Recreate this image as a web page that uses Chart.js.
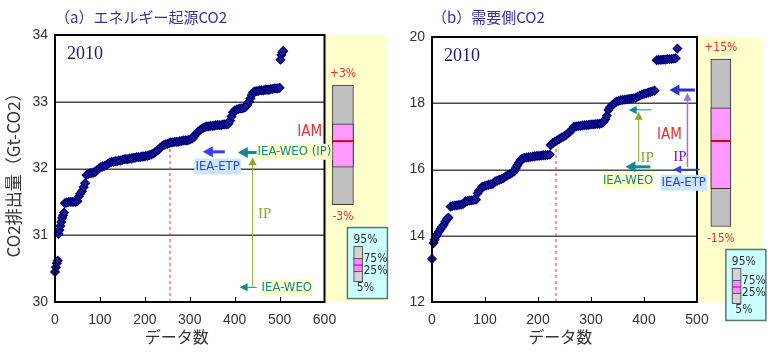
<!DOCTYPE html>
<html>
<head>
<meta charset="utf-8">
<script src="https://cdn.jsdelivr.net/npm/chart.js@4.4.0/dist/chart.umd.min.js"></script>
<style>
  html, body { margin: 0; padding: 0; background: #fff; }
  #wrap { position: relative; width: 768px; height: 354px; overflow: hidden; }
  .pane { position: absolute; top: 0; height: 354px; }
  #paneA { left: 0; width: 392px; }
  #paneB { left: 392px; width: 376px; }
</style>
</head>
<body>
<div id="wrap">
  <div class="pane" id="paneA"><canvas id="chartA"></canvas></div>
  <div class="pane" id="paneB"><canvas id="chartB"></canvas></div>
</div>
<script>
// ══════════════════════════════════════
// CO2 排出量 2010 — データ数ごとの分布
// ══════════════════════════════════════

// ── (a) エネルギー起源CO2 ───────────────
const countA = [0, 2, 4, 6, 8, 10, 12, 14, 16, 18, 20, 22, 26, 30, 34, 38, 42, 46, 50, 53,
  56, 60, 64, 67, 70, 74, 78, 82, 86, 90, 94, 98, 102, 106, 110, 114, 118, 122, 126, 130,
  134, 138, 142, 146, 150, 154, 158, 162, 166, 170, 174, 178, 182, 186, 190, 194, 198, 202, 206, 210,
  214, 218, 222, 226, 230, 234, 238, 242, 246, 250, 254, 258, 262, 266, 270, 274, 278, 282, 286, 290,
  294, 298, 302, 306, 310, 314, 318, 322, 326, 330, 334, 338, 342, 346, 350, 354, 358, 362, 366, 370,
  374, 378, 382, 386, 390, 393, 396, 400, 404, 408, 412, 416, 420, 424, 428, 432, 435, 438, 441, 444,
  448, 452, 456, 460, 464, 468, 472, 476, 480, 484, 488, 492, 496, 500, 502, 504, 506, 508];
const co2A = [30.45, 30.52, 30.58, 30.62, 31.02, 31.08, 31.14, 31.2, 31.26, 31.3, 31.34, 31.48, 31.49, 31.5, 31.5, 31.5, 31.5, 31.5, 31.51, 31.58,
  31.62, 31.66, 31.72, 31.78, 31.9, 31.92, 31.93, 31.93, 31.94, 31.95, 31.98, 32.0, 32.02, 32.03, 32.04, 32.05, 32.07, 32.09, 32.1, 32.1,
  32.11, 32.11, 32.12, 32.12, 32.13, 32.14, 32.14, 32.14, 32.15, 32.15, 32.16, 32.16, 32.17, 32.17, 32.17, 32.18, 32.18, 32.19, 32.19, 32.2,
  32.21, 32.22, 32.24, 32.26, 32.28, 32.31, 32.33, 32.35, 32.36, 32.37, 32.38, 32.39, 32.39, 32.4, 32.4, 32.4, 32.41, 32.41, 32.42, 32.42,
  32.42, 32.43, 32.44, 32.45, 32.48, 32.52, 32.55, 32.57, 32.59, 32.61, 32.62, 32.63, 32.63, 32.64, 32.64, 32.64, 32.65, 32.65, 32.65, 32.65,
  32.66, 32.66, 32.66, 32.67, 32.72, 32.78, 32.84, 32.87, 32.88, 32.89, 32.9, 32.9, 32.91, 32.92, 32.95, 33.0, 33.05, 33.1, 33.14, 33.15,
  33.16, 33.16, 33.17, 33.17, 33.17, 33.18, 33.18, 33.18, 33.19, 33.19, 33.2, 33.2, 33.2, 33.21, 33.63, 33.7, 33.74, 33.76];
const boxRangeA = [31.46, 33.25];   // 5%–95% (±3%)
const boxIqrA   = [32.02, 32.67];   // 25%–75%
const medianA   = { count: 256, value: 32.41, curve: 32.38 };
const pctA      = ['+3%', '-3%'];

// ── (b) 需要側CO2 ───────────────────────
const countB = [0, 3, 5, 7, 10, 13, 16, 19, 22, 25, 28, 31, 35, 39, 43, 47, 51, 55, 59, 63,
  67, 71, 75, 79, 83, 86, 89, 92, 95, 99, 103, 107, 111, 115, 119, 123, 127, 131, 135, 139,
  143, 147, 151, 155, 158, 161, 164, 167, 170, 174, 178, 182, 186, 190, 194, 198, 202, 206, 210, 214,
  218, 222, 224, 228, 232, 236, 240, 244, 248, 252, 256, 260, 264, 268, 272, 276, 280, 284, 288, 292,
  296, 300, 304, 308, 312, 316, 320, 324, 327, 330, 333, 336, 340, 344, 348, 352, 356, 360, 364, 368,
  372, 376, 380, 384, 388, 392, 396, 400, 404, 408, 412, 416, 420, 424, 428, 432, 436, 440, 444, 448,
  452, 456, 460, 463];
const co2B = [13.3, 13.78, 13.88, 13.97, 14.05, 14.12, 14.2, 14.27, 14.33, 14.42, 14.5, 14.55, 14.88, 14.9, 14.91, 14.92, 14.93, 14.94, 14.96, 15.04,
  15.05, 15.06, 15.07, 15.08, 15.09, 15.28, 15.36, 15.42, 15.48, 15.5, 15.52, 15.54, 15.55, 15.57, 15.64, 15.66, 15.69, 15.71, 15.74, 15.79,
  15.83, 15.86, 15.9, 15.94, 16.04, 16.12, 16.2, 16.28, 16.33, 16.35, 16.36, 16.37, 16.38, 16.39, 16.4, 16.41, 16.41, 16.42, 16.43, 16.43,
  16.44, 16.45, 16.74, 16.8, 16.84, 16.88, 16.92, 16.96, 16.99, 17.03, 17.08, 17.14, 17.2, 17.29, 17.3, 17.31, 17.32, 17.33, 17.34, 17.34,
  17.35, 17.36, 17.36, 17.37, 17.38, 17.38, 17.39, 17.44, 17.52, 17.62, 17.8, 17.88, 17.94, 18.0, 18.05, 18.07, 18.09, 18.1, 18.11, 18.12,
  18.13, 18.14, 18.15, 18.16, 18.2, 18.23, 18.26, 18.28, 18.3, 18.32, 18.34, 18.36, 18.38, 19.3, 19.31, 19.31, 19.32, 19.32, 19.33, 19.33,
  19.34, 19.35, 19.36, 19.65];
const boxRangeB = [14.28, 19.33];   // 5%–95% (±15%)
const boxIqrB   = [15.42, 17.86];   // 25%–75%
const medianB   = { count: 234, value: 16.86, curve: 16.8 };
const pctB      = ['+15%', '-15%'];

const keyLabels = ['95%', '75%', '25%', '5%'];

// ── fuentes ──
const SANS   = "'Liberation Sans', Arial, sans-serif";
const NARROW = "'Liberation Sans Narrow', 'DejaVu Sans Condensed', Arial, sans-serif";
const SERIF  = "'Liberation Serif', 'Times New Roman', serif";
const JP     = "'Noto Sans CJK JP', sans-serif";

const TEAL = '#138a8a', OLIVE = '#8aa82a', BLUE = '#3a3af0', PURPLE = '#a070e8';

// 注記 (データ座標): [x1, y1, x2, y2, 色, 太さ]
const panelA = {
  title: '（a）エネルギー起源CO2', yTitle: 'CO2排出量（Gt-CO2）',
  xEnd: 600, xMax: 738, boxAt: 641, boxWidth: 21, xTitleAt: 271,
  range: boxRangeA, iqr: boxIqrA, median: medianA, pct: pctA,
  arrows: [
    [378, 32.25, 329, 32.25, BLUE, 3],
    [451, 32.24, 407, 32.24, TEAL, 3],
    [440, 30.23, 440, 32.17, OLIVE, 1],
    [449, 30.22, 411, 30.22, TEAL, 1]
  ],
  labels: [
    ['IEA-ETP', 362, 32.03, BLUE, '#cce6ff', '13px ' + NARROW],
    ['IEA-WEO (IP)', 533, 32.25, TEAL, '#ffffcc', '13px ' + NARROW],
    ['IP', 467, 31.31, OLIVE, null, '15px ' + SERIF],
    ['IEA-WEO', 516, 30.22, TEAL, '#ffffcc', '13px ' + NARROW],
    ['IAM', 567, 32.55, '#e83030', null, '15px ' + NARROW]
  ]
};
const panelB = {
  title: '（b）需要側CO2', yTitle: null,
  xEnd: 500, xMax: 623.6, boxAt: 545, boxWidth: 20, xTitleAt: 242,
  range: boxRangeB, iqr: boxIqrB, median: medianB, pct: pctB,
  arrows: [
    [414, 17.8, 371, 17.8, TEAL, 1],
    [390, 16.24, 390, 17.74, OLIVE, 1],
    [412, 16.08, 365, 16.08, TEAL, 3],
    [482, 16.07, 482, 18.32, PURPLE, 1.5],
    [505, 16.0, 455, 16.0, BLUE, 1.5],
    [496, 18.4, 448, 18.4, '#3030c8', 3]
  ],
  labels: [
    ['IP', 406, 16.35, OLIVE, null, '15px ' + SERIF],
    ['IEA-WEO', 370, 15.65, TEAL, '#ffffcc', '13px ' + NARROW],
    ['IAM', 448, 17.04, '#e83030', null, '15px ' + NARROW],
    ['IP', 468, 16.38, '#8a10d0', null, '15px ' + SERIF],
    ['IEA-ETP', 475, 15.6, BLUE, '#cce6ff', '13px ' + NARROW]
  ]
};

// ── dibujo de flechas ──
function arrow(ctx, p1x, p1y, p2x, p2y, color, w) {
  const dx = p2x - p1x, dy = p2y - p1y, len = Math.hypot(dx, dy);
  const ux = dx / len, uy = dy / len;
  const hl = w > 2 ? 10 : 8, hw = w > 2 ? 5.5 : 4;
  ctx.strokeStyle = color; ctx.fillStyle = color; ctx.lineWidth = w;
  ctx.beginPath();
  ctx.moveTo(p1x, p1y);
  ctx.lineTo(p2x - ux * hl * 0.8, p2y - uy * hl * 0.8);
  ctx.stroke();
  ctx.beginPath();
  ctx.moveTo(p2x, p2y);
  ctx.lineTo(p2x - ux * hl - uy * hw, p2y - uy * hl + ux * hw);
  ctx.lineTo(p2x - ux * hl + uy * hw, p2y - uy * hl - ux * hw);
  ctx.closePath();
  ctx.fill();
}

function makePanel(cfg) {
  return {
    id: 'panel',
    beforeDatasetsDraw(chart) {
      const { ctx, chartArea: a, scales: { x, y } } = chart;
      const x0 = x.getPixelForValue(0), x1 = x.getPixelForValue(cfg.xEnd);
      ctx.save();
      ctx.fillStyle = '#ffffcc';
      ctx.fillRect(x1, a.top, a.right - x1, a.bottom - a.top);
      ctx.strokeStyle = '#4a4a4a'; ctx.lineWidth = 1.5;
      y.ticks.forEach(t => {
        if (t.value <= y.min || t.value >= y.max) return;
        const py = Math.round(y.getPixelForValue(t.value)) + 0.25;
        ctx.beginPath(); ctx.moveTo(x0, py); ctx.lineTo(x1, py); ctx.stroke();
      });
      ctx.restore();
    },
    afterDatasetsDraw(chart) {
      const { ctx, chartArea: a, scales: { x, y } } = chart;
      const x0 = x.getPixelForValue(0), x1 = x.getPixelForValue(cfg.xEnd);
      ctx.save();

      // marco + marcas del eje x
      ctx.strokeStyle = '#000'; ctx.lineWidth = 2;
      ctx.strokeRect(x0, a.top, x1 - x0, a.bottom - a.top);
      ctx.lineWidth = 1;
      x.ticks.forEach(t => {
        if (t.value <= 0 || t.value >= cfg.xEnd) return;
        const px = Math.round(x.getPixelForValue(t.value)) + 0.5;
        ctx.beginPath(); ctx.moveTo(px, a.bottom); ctx.lineTo(px, a.bottom - 5); ctx.stroke();
      });

      // caja: mediana + ±%
      const el = chart.getDatasetMeta(2).data[0];
      const bl = el.x - el.width / 2, br = el.x + el.width / 2;
      const bt = y.getPixelForValue(cfg.range[1]), bb = y.getPixelForValue(cfg.range[0]);
      const pm = y.getPixelForValue(cfg.median.value);
      ctx.strokeStyle = '#dd0000'; ctx.lineWidth = 2;
      ctx.beginPath(); ctx.moveTo(bl, pm); ctx.lineTo(br, pm); ctx.stroke();
      ctx.fillStyle = '#e83030'; ctx.font = '12px ' + NARROW;
      ctx.textAlign = 'center'; ctx.textBaseline = 'middle';
      ctx.fillText(cfg.pct[0], el.x, bt - 11);
      ctx.fillText(cfg.pct[1], el.x, bb + 12);

      // leyenda de percentiles
      const kl = bl + 15, kt = bb + 23, kw = 40, kh = 71;
      ctx.fillStyle = '#ccffff'; ctx.fillRect(kl, kt, kw, kh);
      ctx.strokeStyle = '#557777'; ctx.lineWidth = 1.5; ctx.strokeRect(kl, kt, kw, kh);
      const ml = kl + 6.5, mt = kt + 19, mw = 8.5, mh = 35;
      ctx.fillStyle = '#d4d4d4'; ctx.fillRect(ml, mt, mw, mh);
      ctx.fillStyle = '#ff88ff'; ctx.fillRect(ml, mt + 12, mw, 13);
      ctx.strokeStyle = '#555'; ctx.lineWidth = 1;
      ctx.strokeRect(ml, mt, mw, mh);
      ctx.beginPath();
      ctx.moveTo(ml, mt + 12); ctx.lineTo(ml + mw, mt + 12);
      ctx.moveTo(ml, mt + 25); ctx.lineTo(ml + mw, mt + 25);
      ctx.stroke();
      ctx.strokeStyle = '#b000b0';
      ctx.beginPath(); ctx.moveTo(ml, mt + 18.5); ctx.lineTo(ml + mw, mt + 18.5); ctx.stroke();
      ctx.fillStyle = '#333'; ctx.font = '12px ' + NARROW;
      ctx.textAlign = 'center';
      ctx.fillText(keyLabels[0], kl + 18, kt + 12);
      ctx.fillText(keyLabels[3], kl + 18, mt + mh + 6);
      ctx.textAlign = 'left';
      ctx.fillText(keyLabels[1], ml + mw + 1, mt + 12);
      ctx.fillText(keyLabels[2], ml + mw + 1, mt + 24);

      // flechas y etiquetas
      cfg.arrows.forEach(([ax1, ay1, ax2, ay2, c, w]) =>
        arrow(ctx, x.getPixelForValue(ax1), y.getPixelForValue(ay1),
                   x.getPixelForValue(ax2), y.getPixelForValue(ay2), c, w));
      cfg.labels.forEach(([txt, lx, ly, c, bg, font]) => {
        const px = x.getPixelForValue(lx), py = y.getPixelForValue(ly);
        ctx.font = font; ctx.textAlign = 'center'; ctx.textBaseline = 'middle';
        if (bg) {
          const tw = ctx.measureText(txt).width;
          ctx.fillStyle = bg; ctx.fillRect(px - tw / 2 - 1, py - 8, tw + 2, 16);
        }
        ctx.fillStyle = c; ctx.fillText(txt, px, py);
      });

      // año
      ctx.fillStyle = '#1c1c78'; ctx.font = '18px ' + SERIF;
      ctx.textAlign = 'left'; ctx.textBaseline = 'middle';
      ctx.fillText('2010', a.left + 12, a.top + 19);

      // títulos
      ctx.fillStyle = '#34349a'; ctx.font = '15px ' + JP;
      ctx.fillText(cfg.title, a.left, 17);
      ctx.fillStyle = '#333'; ctx.font = '16px ' + JP; ctx.textAlign = 'center';
      ctx.fillText('データ数', x.getPixelForValue(cfg.xTitleAt), 337);
      if (cfg.yTitle) {
        ctx.translate(14, 171); ctx.rotate(-Math.PI / 2);
        ctx.font = '17px ' + JP;
        ctx.fillText(cfg.yTitle, 0, 0);
      }
      ctx.restore();
    }
  };
}

function buildChart(id, cfg, counts, values, yMin, yMax, yWidth, padTop, padRight) {
  return new Chart(document.getElementById(id).getContext('2d'), {
    type: 'scatter',
    data: {
      datasets: [
        {
          data: counts.map((c, i) => ({ x: c, y: values[i] })),
          pointStyle: 'rectRot', pointRadius: 4.3,
          borderColor: '#000080', backgroundColor: '#1e1e88', borderWidth: 1.2,
          clip: false, order: 1
        },
        {
          type: 'line',
          data: [{ x: cfg.median.count, y: yMin }, { x: cfg.median.count, y: cfg.median.curve }],
          borderColor: '#ee3030', borderDash: [3, 3], borderWidth: 1,
          pointRadius: 0, fill: false, order: 2
        },
        {
          type: 'bar',
          data: [{ x: cfg.boxAt, y: cfg.range }],
          backgroundColor: '#c0c0c0', borderColor: '#333', borderWidth: 1,
          borderSkipped: false, barThickness: cfg.boxWidth, grouped: false, order: 4
        },
        {
          type: 'bar',
          data: [{ x: cfg.boxAt, y: cfg.iqr }],
          backgroundColor: '#ff99ff', borderColor: '#333', borderWidth: 1,
          borderSkipped: false, barThickness: cfg.boxWidth, grouped: false, order: 3
        }
      ]
    },
    options: {
      responsive: true, maintainAspectRatio: false,
      animation: false, events: [],
      layout: { padding: { left: 0, top: padTop, right: padRight, bottom: 0 } },
      plugins: { legend: { display: false }, tooltip: { enabled: false }, title: { display: false } },
      scales: {
        x: {
          type: 'linear', min: 0, max: cfg.xMax, offset: false,
          grid: { display: false }, border: { display: false },
          ticks: { stepSize: 100, color: '#333', padding: 2, maxRotation: 0, font: { size: 14, family: SANS } },
          afterBuildTicks: s => { s.ticks = s.ticks.filter(t => t.value <= cfg.xEnd); },
          afterFit: s => { s.height = 52; }
        },
        y: {
          type: 'linear', min: yMin, max: yMax, beginAtZero: false,
          grid: { display: false, drawTicks: false }, border: { display: false },
          ticks: { stepSize: yMax - yMin > 5 ? 2 : 1, color: '#333', padding: 7, font: { size: 14, family: SANS } },
          afterFit: s => { s.width = yWidth; }
        }
      }
    },
    plugins: [makePanel(cfg)]
  });
}

buildChart('chartA', panelA, countA, co2A, 30, 34, 55, 35, 5);
buildChart('chartB', panelB, countB, co2B, 12, 20, 40, 37, 3);
</script>
</body>
</html>
